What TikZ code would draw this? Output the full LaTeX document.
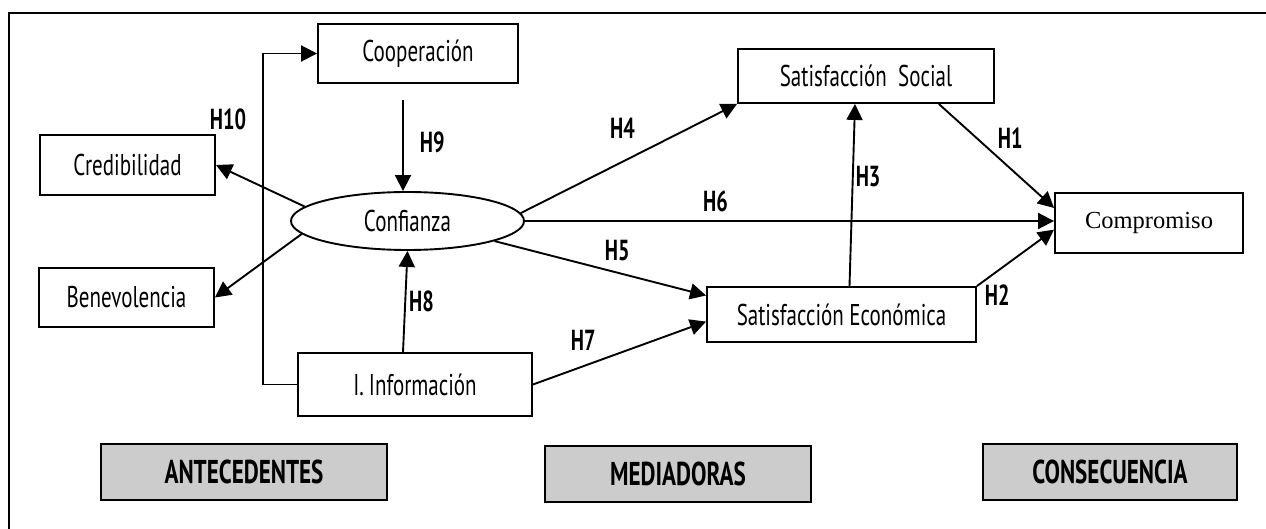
\documentclass[tikz,border=0pt]{standalone}
\usepackage{fontspec}
\setmainfont{PT Sans}[FakeStretch=0.7]
\newfontfamily\timesfont{Liberation Serif}
\usetikzlibrary{arrows.meta,shapes.geometric}
\definecolor{boxgray}{HTML}{CCCCCC}

\begin{document}
\begin{tikzpicture}[x=1pt,y=-1pt,line width=1.9pt,
    box/.style={draw,rectangle,inner sep=0pt,font=\fontsize{30}{32}\selectfont},
    grp/.style={draw,fill=boxgray,inner sep=0pt,minimum height=56pt,font=\bfseries\fontsize{33}{34}\selectfont},
    hyp/.style={inner sep=0pt,font=\bfseries\fontsize{29}{30}\selectfont},
    arr/.style={-{Triangle[length=16pt,width=16pt]}}]
    \useasboundingbox (0,0) rectangle (1266,529);
    \draw (9,529) -- (9,13) -- (1266,13);
    % antecedentes
    \node[box,minimum width=200pt,minimum height=59pt] (coop) at (418,53.5) {Cooperación};
    \node[box,minimum width=175pt,minimum height=60pt] (cred) at (127.5,165) {Credibilidad};
    \node[box,minimum width=175pt,minimum height=59pt] (bene) at (126.5,297.5) {Benevolencia};
    \node[draw,ellipse,inner sep=0pt,minimum width=233pt,minimum height=58pt,
      font=\fontsize{30}{32}\selectfont] (conf) at (407.5,221) {Confianza};
    \node[box,minimum width=234pt,minimum height=63pt] (info) at (415,384.5) {I.\,Información};
    % mediadoras
    \node[box,minimum width=256pt,minimum height=54pt] (satsoc) at (866,76) {Satisfacción~~Social};
    \node[box,minimum width=269pt,minimum height=55pt] (sateco) at (841.5,314.5) {Satisfacción Económica};
    % consecuencia
    \node[box,minimum width=188pt,minimum height=60pt,
      font=\timesfont\fontsize{24.5}{26}\selectfont] (comp) at (1149,223) {Compromiso};
    \node[grp,minimum width=286pt] (ante) at (244,472) {ANTECEDENTES};
    \node[grp,minimum width=266pt] (medi) at (678,474) {MEDIADORAS};
    \node[grp,minimum width=254pt] (cons) at (1110,472) {CONSECUENCIA};
    \coordinate (h9) at (403,100);
    \draw [arr] (info.west) -- ++(-34,0) |- node[hyp,pos=.4,left=16pt] {H10} (coop.west);
    \draw [arr] (h9) -- node[hyp,pos=.47,right=16pt] {H9} (h9 |- conf.north);
    \draw [arr] ([xshift=-12pt]info.north) -- node[hyp,pos=.5,right=3pt] {H8} (conf.south);
    \draw [arr] (conf.172) -- (cred.east);
    \draw [arr] (conf.187) -- (bene.east);
    \draw [arr] (conf.4) -- node[hyp,pos=.47,above=22pt] {H4} (satsoc.south west);
    \draw [arr] (conf.east) -- node[hyp,pos=.36,above=8pt] {H6} (conf.east -| comp.west);
    \draw [arr] (conf.347) -- node[hyp,pos=.58,above=11pt] {H5} (sateco.172);
    \draw [arr] (info.east) -- node[hyp,pos=.29,above=15pt] {H7} (sateco.183);
    \draw [arr] ([xshift=8pt]sateco.north) -- node[hyp,pos=.6,right=2pt] {H3} ([xshift=-11pt]satsoc.south);
    \draw [arr] (satsoc.339) -- node[hyp,pos=.33,right=20pt] {H1} (comp.171);
    \draw [arr] (sateco.north east) -- node[hyp,pos=0,anchor=north west,xshift=7pt,yshift=2pt] {H2} (comp.184);
\end{tikzpicture}
\end{document}
